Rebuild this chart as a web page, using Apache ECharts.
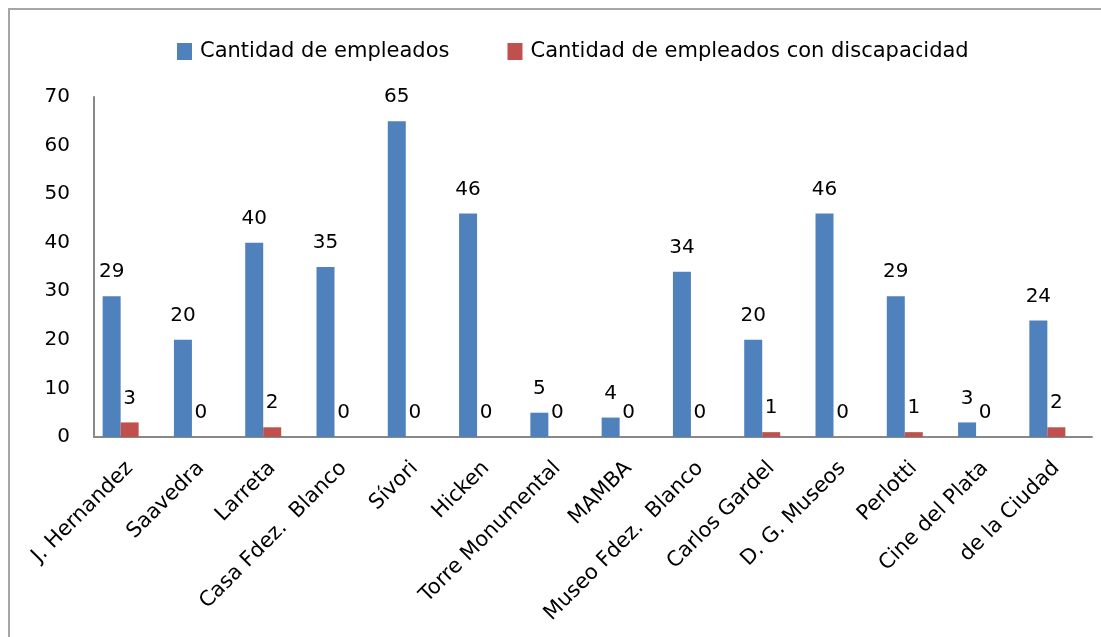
<!DOCTYPE html>
<html>
<head>
<meta charset="utf-8">
<script src="https://cdn.jsdelivr.net/npm/echarts@6/dist/echarts.min.js"></script>
<style>
  html, body { margin: 0; padding: 0; background: #fff; }
  #frame { position: absolute; left: 8px; top: 8px; width: 1100px; height: 640px;
           border-left: 2px solid #a6a6a6; border-top: 2px solid #a6a6a6; }
  #main { position: absolute; left: 0; top: 0; width: 1101px; height: 637px; }
</style>
</head>
<body>
<div id="frame"></div>
<div id="main"></div>
<script>
// categorias y valores
var categorias = ['J. Hernandez', 'Saavedra', 'Larreta', 'Casa Fdez.  Blanco', 'Sívori', 'Hicken',
  'Torre Monumental', 'MAMBA', 'Museo Fdez.  Blanco', 'Carlos Gardel', 'D. G. Museos',
  'Perlotti', 'Cine del Plata', 'de la Ciudad']
var empleados = [29, 20, 40, 35, 65, 46, 5, 4, 34, 20, 46, 29, 3, 24]
var discapacidad = [3, 0, 2, 0, 0, 0, 0, 0, 0, 1, 0, 1, 0, 2]
var ticksY = [0, 10, 20, 30, 40, 50, 60, 70]

var fuente = 'DejaVu Sans'
var myChart = echarts.init(document.getElementById('main'))

var etiqueta = {
  show: true,
  position: 'top',
  distance: 14,
  color: '#000',
  fontFamily: fuente,
  fontSize: 20
}

myChart.setOption({
  animation: false,
  textStyle: { fontFamily: fuente },
  legend: {
    top: 36,
    left: 172,
    icon: 'rect',
    itemWidth: 15,
    itemHeight: 17,
    itemGap: 58,
    textStyle: { fontFamily: fuente, fontSize: 21, color: '#000', padding: [0, 0, 0, 3] },
    data: ['Cantidad de empleados', 'Cantidad de empleados con discapacidad']
  },
  grid: { left: 94, right: 9, top: 97, bottom: 200, containLabel: false },
  xAxis: {
    type: 'category',
    data: categorias,
    axisLine: { lineStyle: { color: '#888', width: 2 } },
    axisTick: { show: false },
    axisLabel: { rotate: 45, margin: 28, interval: 0, color: '#000', fontFamily: fuente, fontSize: 21 }
  },
  yAxis: {
    type: 'value',
    min: ticksY[0],
    max: ticksY[ticksY.length - 1],
    interval: 10,
    splitLine: { show: false },
    axisLine: { show: true, lineStyle: { color: '#888', width: 2 } },
    axisTick: { show: false },
    axisLabel: { margin: 24, color: '#000', fontFamily: fuente, fontSize: 20 }
  },
  series: [{
    name: 'Cantidad de empleados',
    type: 'bar',
    data: empleados,
    barWidth: 18,
    barGap: '0%',
    itemStyle: { color: '#4F81BD' },
    label: etiqueta
  }, {
    name: 'Cantidad de empleados con discapacidad',
    type: 'bar',
    data: discapacidad,
    barWidth: 18,
    barGap: '0%',
    itemStyle: { color: '#C0504D' },
    label: etiqueta
  }, {
    // serie vacia (como en la planilla original) que desplaza el grupo
    name: 'vacia',
    type: 'bar',
    data: categorias.map(function () { return '-' }),
    barWidth: 18,
    barGap: '0%'
  }]
})
</script>
</body>
</html>
